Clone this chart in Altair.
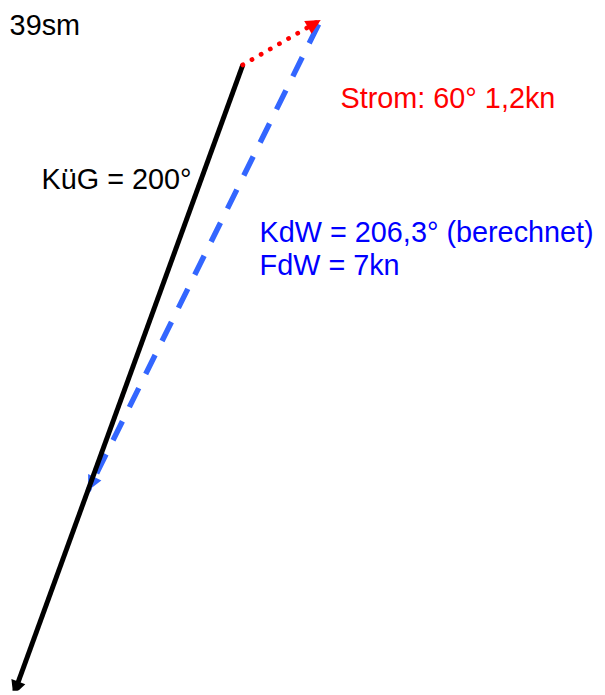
import math
import altair as alt
import pandas as pd

# ---------------- data ----------------
# vectors (bearing in degrees true, length in knots); drawn in this order
vec_names = ["KdW", "KüG", "Strom"]
vec_bearing = [206.3, 200.0, 60.0]
vec_length = [7.0, 8.95, 1.2]
vec_from = ["Strom", "origin", "origin"]
vec_color = ["#3366ff", "#000000", "#ff0000"]

# annotation labels (position in the same units as the vectors)
label_text = ["39sm", "KüG = 200°", "Strom: 60° 1,2kn",
              "KdW = 206,3° (berechnet)", "FdW = 7kn"]
label_x = [-3.11, -2.684, 1.303, 0.224, 0.224]
label_y = [0.405, -1.658, -0.579, -2.368, -2.803]
label_color = ["#000000", "#000000", "#ff0000", "#0000ff", "#0000ff"]

# ---------------- geometry from the data ----------------
ends = {"origin": (0.0, 0.0)}
order = ["Strom", "KüG", "KdW"]
rows = {}
for nm in order:
    i = vec_names.index(nm)
    x0, y0 = ends[vec_from[i]]
    b = math.radians(vec_bearing[i])
    x1 = x0 + vec_length[i] * math.sin(b)
    y1 = y0 + vec_length[i] * math.cos(b)
    ends[nm] = (x1, y1)
    rows[nm] = dict(name=nm, x=x0, y=y0, x2=x1, y2=y1,
                    bearing=vec_bearing[i], color=vec_color[i])

vec_df = pd.DataFrame([rows[n] for n in vec_names])
lab_df = pd.DataFrame(dict(text=label_text, x=label_x, y=label_y, color=label_color))

xs = alt.Scale(domain=[-3.1316, 4.7237], nice=False, zero=False)
ys = alt.Scale(domain=[-8.3421, 0.6974], nice=False, zero=False)

HEAD = "M0,0L-0.5,1L0.5,1Z"


def line(nm, **style):
    d = vec_df[vec_df.name == nm]
    return alt.Chart(d).mark_rule(clip=True, **style).encode(
        x=alt.X("x:Q", scale=xs, axis=None),
        y=alt.Y("y:Q", scale=ys, axis=None),
        x2="x2:Q", y2="y2:Q",
        color=alt.Color("color:N", scale=None),
    )


def head(nm):
    d = vec_df[vec_df.name == nm]
    return alt.Chart(d).mark_point(shape=HEAD, filled=True, size=900, opacity=1,
                                   strokeWidth=0, clip=True).encode(
        x=alt.X("x2:Q", scale=xs, axis=None),
        y=alt.Y("y2:Q", scale=ys, axis=None),
        angle=alt.Angle("bearing:Q", scale=None),
        color=alt.Color("color:N", scale=None),
    )


blue_line = line("KdW", strokeWidth=5.5, strokeDash=[21.5, 15.9],
                 strokeDashOffset=32.5, strokeCap="butt")
black_line = line("KüG", strokeWidth=5, strokeCap="butt")
red_line = line("Strom", strokeWidth=4.8, strokeDash=[0.1, 10.6], strokeCap="round")

labels = alt.Chart(lab_df).mark_text(align="left", baseline="alphabetic",
                                     font="Liberation Sans", fontSize=29.2).encode(
    x=alt.X("x:Q", scale=xs, axis=None),
    y=alt.Y("y:Q", scale=ys, axis=None),
    text="text:N",
    color=alt.Color("color:N", scale=None),
)

chart = alt.layer(
    blue_line, head("KdW"),
    black_line, head("KüG"),
    red_line, head("Strom"),
    labels,
).properties(width=597, height=687, padding=0, autosize="none",
             background="#ffffff").configure_view(strokeWidth=0)

chart.save("out.html", embed_options={"renderer": "svg", "actions": False})
